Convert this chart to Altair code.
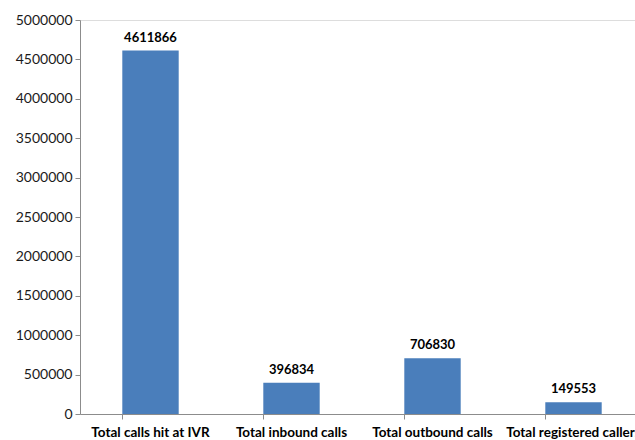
import altair as alt
import pandas as pd

categories = ["Total calls hit at IVR", "Total inbound calls", "Total outbound calls", "Total registered callers"]
values = [4611866, 396834, 706830, 149553]
y_ticks = [0, 500000, 1000000, 1500000, 2000000, 2500000, 3000000, 3500000, 4000000, 4500000, 5000000]

df = pd.DataFrame({"category": categories, "value": values})

FONT = "Lato"

base = alt.Chart(df).encode(
    x=alt.X("category:N", sort=categories, title=None,
            scale=alt.Scale(paddingInner=0.6, paddingOuter=0.3, range=[0, 564]),
            axis=alt.Axis(labelAngle=0, labelFont=FONT, labelFontWeight="bold", labelFontSize=13.5,
                          labelColor="#000000", domainColor="#8c8c8c", tickColor="#8c8c8c",
                          tickSize=5, labelPadding=6, bandPosition=0, labelBound=False,
                          labelOverlap=False, labelLimit=0)),
    y=alt.Y("value:Q", title=None,
            scale=alt.Scale(domain=[0, 5000000], nice=False),
            axis=alt.Axis(values=y_ticks, format="d", grid=False, labelFont=FONT, labelFontSize=14,
                          labelColor="#1a1a1a", domainColor="#8c8c8c", tickColor="#8c8c8c",
                          tickSize=5, labelPadding=3, labelOverlap=False, labelBound=False,
                          tickCount=11)),
)

bars = base.mark_bar(color="#4A7EBB")

text = base.mark_text(dy=-13, font=FONT, fontWeight="bold", fontSize=13, color="#000000").encode(
    text=alt.Text("value:Q", format="d"),
)

chart = (bars + text).properties(
    width=555, height=394,
    padding={"left": 80, "top": 20, "right": 0, "bottom": 26},
    autosize=alt.AutoSizeParams(type="none"),
).configure_view(stroke=None).configure(background="white")

chart.save("out.html", embed_options={"renderer": "svg", "actions": False})
